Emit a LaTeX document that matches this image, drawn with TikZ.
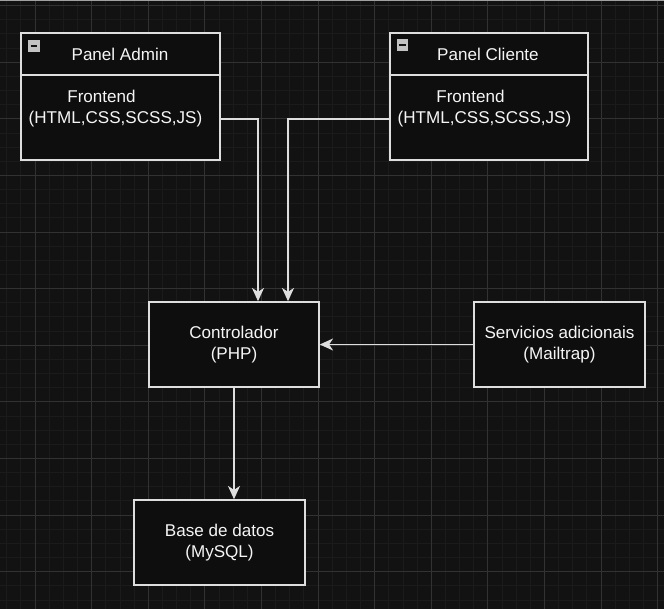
\documentclass[tikz,border=0pt]{standalone}
\usepackage{fontspec}
\setmainfont{Liberation Sans}
\usepackage{tikz}
\usetikzlibrary{arrows.meta}
\definecolor{canvas}{RGB}{18,18,18}
\definecolor{minorline}{RGB}{27,27,27}
\definecolor{majorline}{RGB}{50,50,50}
\definecolor{boxfill}{RGB}{14,14,14}
\definecolor{boxline}{RGB}{222,222,222}
\definecolor{boxtext}{RGB}{245,245,245}
\pgfkeys{tikz/mybox/.style={draw=boxline, line width=1.1pt, fill=boxfill,
                                text=boxtext, align=center, inner sep=0pt,
                                font=\fontsize{12.8}{15.4}\selectfont}}
\pgfkeys{tikz/mylabel/.style={text=boxtext, align=center, inner sep=0pt,
                                  font=\fontsize{12.8}{15.4}\selectfont}}
\pgfkeys{tikz/mylink/.style={draw=boxline, line width=1.1pt,
                                 -{Stealth[length=10pt,width=9pt,inset=3pt]}}}
\pgfkeys{tikz/myicon/.style={fill=boxline!70!gray, minimum size=8.5pt, inner sep=0pt}}

\begin{document}
\begin{tikzpicture}[x=0.75pt,y=-0.75pt]
                    \useasboundingbox (0,0) rectangle (664,609);
                    \fill [canvas] (0,0) rectangle (664,609);
                    % grid
                    \foreach \i in {0,...,48} {
                        \draw [minorline,line width=0.6pt] ({-21.6+14.15*\i},0) -- ++(0,609);
                        \draw [minorline,line width=0.6pt] (0,{-51+14.15*\i}) -- ++(664,0);
                    }
                    \foreach \i in {0,...,12} {
                        \draw [majorline,line width=0.7pt] ({-21.6+56.6*\i},0) -- ++(0,609);
                        \draw [majorline,line width=0.7pt] (0,{5.6+56.6*\i}) -- ++(664,0);
                    }
                    \draw [boxline!70!canvas,line width=1pt] (0,0.6) -- (664,0.6);

                    % panels
                    \node [mybox,minimum width=149.25pt,minimum height=95.25pt] (admin) at (120.5,96.5) {};
                    \draw [boxline,line width=1.1pt] (21,75) -- (220,75);
                    \node [mylabel] (admintitle) at (120,54) {Panel Admin};
                    \node [mylabel] (adminbody) at (115.5,108.5) {Frontend\hspace*{21pt}\\(HTML,CSS,SCSS,JS)};
                    \node [myicon] (adminicon) at (34,46) {};
                    \draw [canvas,line width=1.3pt] ([xshift=-2.5pt]adminicon.center) -- ([xshift=2.5pt]adminicon.center);

                    \node [mybox,minimum width=148.5pt,minimum height=95.25pt] (cliente) at (489,96.5) {};
                    \draw [boxline,line width=1.1pt] (390,75) -- (588,75);
                    \node [mylabel] (clientetitle) at (488,54) {Panel Cliente};
                    \node [mylabel] (clientebody) at (484.5,108.5) {Frontend\hspace*{21pt}\\(HTML,CSS,SCSS,JS)};
                    \node [myicon] (clienteicon) at (402.5,45) {};
                    \draw [canvas,line width=1.3pt] ([xshift=-2.5pt]clienteicon.center) -- ([xshift=2.5pt]clienteicon.center);

                    % backend
                    \node [mybox,minimum width=127.5pt,minimum height=63.75pt] (ctrl) at (234,344.5) {Controlador\\(PHP)};
                    \node [mybox,minimum width=128.25pt,minimum height=63.75pt] (extra) at (559.5,344.5) {Servicios adicionais\\(Mailtrap)};
                    \node [mybox,minimum width=128.25pt,minimum height=63.75pt] (db) at (219.5,542.5) {Base de datos\\(MySQL)};

                    \draw [mylink] ([yshift=-16.9pt]admin.east) -| ([xshift=18pt]ctrl.north);
                    \draw [mylink] ([yshift=-16.9pt]cliente.west) -| ([xshift=40.5pt]ctrl.north);
                    \draw [mylink] (extra.west) -- (ctrl.east);
                    \draw [mylink] (ctrl.south) -- (ctrl.south |- db.north);
                \end{tikzpicture}
\end{document}
